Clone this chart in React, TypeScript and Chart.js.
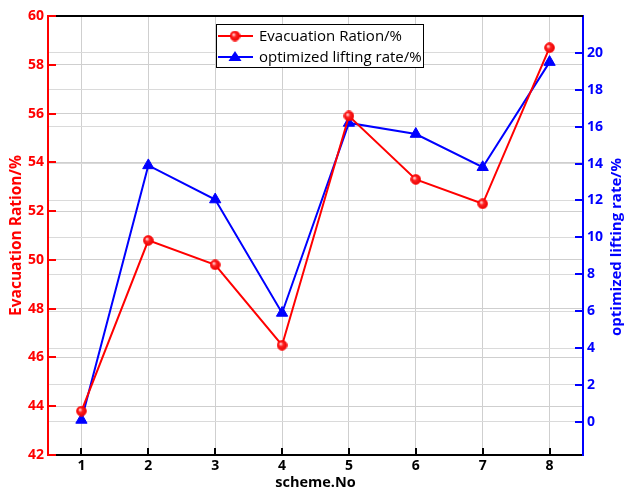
import React, { useEffect, useRef } from "react";
import { Chart, registerables } from "chart.js";

Chart.register(...registerables);

const schemes = ["1", "2", "3", "4", "5", "6", "7", "8"];
const evacuationRatio = [43.8, 50.8, 49.8, 46.5, 55.9, 53.3, 52.3, 58.7];
const liftingRate = [0.1, 13.9, 12.05, 5.9, 16.2, 15.6, 13.8, 19.5];
const leftTicks = [42, 44, 46, 48, 50, 52, 54, 56, 58, 60];
const rightTicks = [0, 2, 4, 6, 8, 10, 12, 14, 16, 18, 20];

const FONT = "'Open Sans', 'Noto Sans', sans-serif";

function makeSphere(): HTMLCanvasElement {
  const c = document.createElement("canvas");
  c.width = 11;
  c.height = 11;
  const g = c.getContext("2d")!;
  const grad = g.createRadialGradient(4, 4, 0.5, 5.5, 5.5, 5.5);
  grad.addColorStop(0, "#ffd0d0");
  grad.addColorStop(0.35, "#ff2020");
  grad.addColorStop(1, "#e00000");
  g.fillStyle = grad;
  g.beginPath();
  g.arc(5.5, 5.5, 4.8, 0, Math.PI * 2);
  g.fill();
  g.strokeStyle = "#ff0000";
  g.lineWidth = 1;
  g.stroke();
  return c;
}

export default function App() {
  const ref = useRef<HTMLCanvasElement>(null);

  useEffect(() => {
    document.body.style.margin = "0";
    const sphere = makeSphere();

    const decor = {
      id: "decor",
      afterDraw(chart: any) {
        const ctx = chart.ctx;
        const { left, right, top, bottom } = chart.chartArea;
        ctx.save();
        // top border
        ctx.strokeStyle = "#000";
        ctx.lineWidth = 2;
        ctx.beginPath();
        ctx.moveTo(left, top);
        ctx.lineTo(right, top);
        ctx.stroke();
        // inward ticks
        const y = chart.scales.y;
        ctx.strokeStyle = "#ff0000";
        ctx.lineWidth = 2;
        leftTicks.forEach((v) => {
          const p = Math.round(y.getPixelForValue(v));
          ctx.beginPath();
          ctx.moveTo(left, p);
          ctx.lineTo(left + 8, p);
          ctx.stroke();
        });
        const y1 = chart.scales.y1;
        ctx.strokeStyle = "#0000ff";
        rightTicks.forEach((v) => {
          const p = Math.round(y1.getPixelForValue(v));
          ctx.beginPath();
          ctx.moveTo(right - 8, p);
          ctx.lineTo(right, p);
          ctx.stroke();
        });
        const x = chart.scales.x;
        ctx.strokeStyle = "#000";
        schemes.forEach((_, i) => {
          const p = Math.round(x.getPixelForValue(i));
          ctx.beginPath();
          ctx.moveTo(p, bottom);
          ctx.lineTo(p, bottom - 7);
          ctx.stroke();
        });
        // right axis title
        ctx.save();
        ctx.translate(617, 247);
        ctx.rotate(-Math.PI / 2);
        ctx.fillStyle = "#0000ff";
        ctx.font = `bold 15px ${FONT}`;
        ctx.textAlign = "center";
        ctx.textBaseline = "middle";
        ctx.fillText("optimized lifting rate/%", 0, 0);
        ctx.restore();
        // legend
        const lx = 216, ly = 24, lw = 207, lh = 43;
        ctx.fillStyle = "#fff";
        ctx.fillRect(lx, ly, lw, lh);
        ctx.strokeStyle = "#000";
        ctx.lineWidth = 1;
        ctx.strokeRect(lx + 0.5, ly + 0.5, lw, lh);
        const rows = [
          { label: "Evacuation Ration/%", color: "#ff0000", y: ly + 12 },
          { label: "optimized lifting rate/%", color: "#0000ff", y: ly + 33 },
        ];
        rows.forEach((r, i) => {
          ctx.strokeStyle = r.color;
          ctx.lineWidth = 2;
          ctx.beginPath();
          ctx.moveTo(lx + 2, r.y);
          ctx.lineTo(lx + 37, r.y);
          ctx.stroke();
          if (i === 0) {
            ctx.drawImage(sphere, lx + 19 - 5.5, r.y - 5.5);
          } else {
            ctx.fillStyle = r.color;
            ctx.beginPath();
            ctx.moveTo(lx + 19, r.y - 6);
            ctx.lineTo(lx + 25.5, r.y + 4);
            ctx.lineTo(lx + 12.5, r.y + 4);
            ctx.closePath();
            ctx.fill();
          }
          ctx.fillStyle = "#000";
          ctx.font = `15px ${FONT}`;
          ctx.textBaseline = "middle";
          ctx.textAlign = "left";
          ctx.fillText(r.label, lx + 43, r.y + 0.5);
        });
        ctx.restore();
      },
    };

    const chart = new Chart(ref.current!, {
      type: "line",
      data: {
        labels: schemes,
        datasets: [
          {
            label: "Evacuation Ration/%",
            data: evacuationRatio,
            yAxisID: "y",
            borderColor: "#ff0000",
            backgroundColor: "#ff0000",
            borderWidth: 2,
            pointStyle: sphere as any,
            pointRadius: 5,
            tension: 0,
          },
          {
            label: "optimized lifting rate/%",
            data: liftingRate,
            yAxisID: "y1",
            borderColor: "#0000ff",
            backgroundColor: "#0000ff",
            borderWidth: 2,
            pointStyle: "triangle",
            pointRadius: 6.5,
            pointBorderWidth: 1,
            tension: 0,
          },
        ],
      },
      options: {
        animation: false,
        responsive: false,
        layout: { padding: { top: 16, left: 0, right: 0, bottom: 0 } },
        plugins: { legend: { display: false }, tooltip: { enabled: false } },
        scales: {
          x: {
            type: "category",
            offset: true,
            grid: { offset: false, color: "#cfcfcf", lineWidth: 1, drawTicks: false },
            border: { color: "#000", width: 2 },
            ticks: { color: "#000", font: { family: FONT, size: 14, weight: "bold" }, padding: 3 },
            title: {
              display: true,
              text: "scheme.No",
              color: "#000",
              font: { family: FONT, size: 14.5, weight: "bold" },
              padding: { top: -2, bottom: 0 },
            },
            afterFit(s: any) {
              s.height = 37;
            },
          },
          y: {
            type: "linear",
            position: "left",
            min: 42,
            max: 60,
            afterBuildTicks(s: any) {
              s.ticks = leftTicks.map((v) => ({ value: v }));
            },
            grid: { color: "#cfcfcf", lineWidth: 1, drawTicks: false },
            border: { color: "#ff0000", width: 2 },
            ticks: { color: "#ff0000", font: { family: FONT, size: 14, weight: "bold" }, padding: 4 },
            title: {
              display: true,
              text: "Evacuation Ration/%",
              color: "#ff0000",
              font: { family: FONT, size: 15.5, weight: "bold" },
              padding: { top: 7, bottom: 0 },
            },
            afterFit(s: any) {
              s.width = 48;
            },
          },
          y1: {
            type: "linear",
            position: "right",
            min: -1.8,
            max: 22,
            afterBuildTicks(s: any) {
              s.ticks = rightTicks.map((v) => ({ value: v }));
            },
            grid: { color: "#dadada", lineWidth: 1, drawTicks: false },
            border: { color: "#0000ff", width: 2 },
            ticks: { color: "#0000ff", font: { family: FONT, size: 14, weight: "bold" }, padding: 4 },
            title: { display: false },
            afterFit(s: any) {
              s.width = 41;
            },
          },
        },
      },
      plugins: [decor],
    });
    return () => chart.destroy();
  }, []);

  return (
    <div style={{ position: "fixed", left: 0, top: 0, width: 624, height: 492 }}>
      <canvas ref={ref} width={624} height={492} style={{ width: 624, height: 492 }} />
    </div>
  );
}
